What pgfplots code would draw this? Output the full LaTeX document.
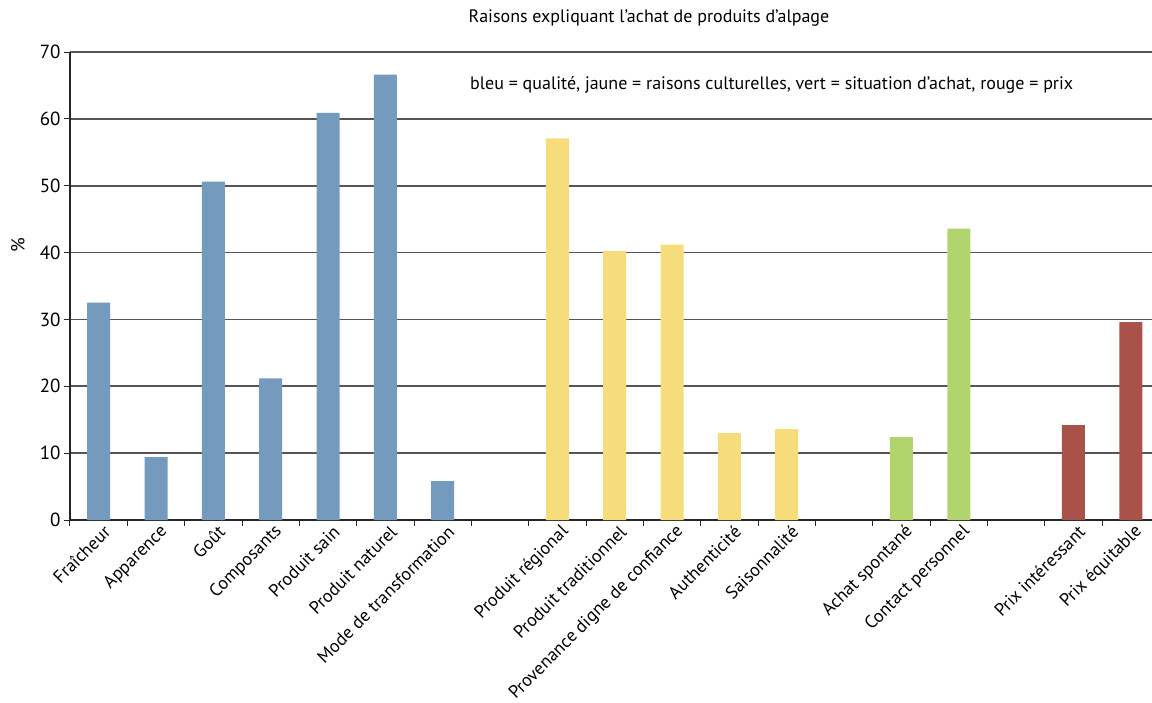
\documentclass[border=0pt]{standalone}
\usepackage{pgfplots}
\pgfplotsset{compat=1.18}
\usepackage{fontspec}
\setmainfont{PT Sans}
\definecolor{cblue}{HTML}{749BBE}
\definecolor{cyellow}{HTML}{F6DC7B}
\definecolor{cgreen}{HTML}{B2D46C}
\definecolor{cred}{HTML}{A8524A}
\definecolor{cgrid}{HTML}{555555}
\begin{document}
\begin{tikzpicture}[x=1pt,y=1pt]
\begin{axis}[
  at={(0,0)}, anchor=south west,
  scale only axis,
  width=1082pt, height=468pt,
  ymin=0, ymax=70,
  xmin=-0.5, xmax=18.37,
  ytick={0,10,...,70},
  xtick={0,1,2,3,4,5,6,8,9,10,11,12,14,15,17,18},
  xticklabels={Fraîcheur,Apparence,Goût,Composants,Produit sain,Produit naturel,Mode de transformation,Produit régional,Produit traditionnel,Provenance digne de confiance,Authenticité,Saisonnalité,Achat spontané,Contact personnel,Prix intéressant,Prix équitable},
  minor xtick={-0.5,0.5,...,17.5},
  major x tick style={draw=none},
  minor x tick style={draw=black!85, line width=1pt},
  minor tick length=6pt,
  major tick length=6pt,
  tick align=outside,
  axis x line*=bottom,
  axis y line*=left,
  axis line style={draw=black!85, line width=1.4pt, -},
  ytick style={draw=black!85, line width=1pt},
  ymajorgrids,
  major grid style={draw=cgrid, line width=1.8pt},
  ybar, bar width=23pt, bar shift=0pt,
  xticklabel style={rotate=45, anchor=east, inner sep=2pt, font=\fontsize{18}{20}\selectfont, xshift=6pt, yshift=-8pt},
  yticklabel style={font=\fontsize{19}{20}\selectfont},
  /pgf/number format/assume math mode=true,
  clip=true,
]
\addplot[draw=none, fill=cblue] coordinates {(0,32.5) (1,9.4) (2,50.6) (3,21.2) (4,60.9) (5,66.6) (6,5.8)};
\addplot[draw=none, fill=cyellow] coordinates {(8,57.1) (9,40.2) (10,41.2) (11,13.0) (12,13.6)};
\addplot[draw=none, fill=cgreen] coordinates {(14,12.4) (15,43.6)};
\addplot[draw=none, fill=cred] coordinates {(17,14.2) (18,29.6)};
\end{axis}
\node[font=\fontsize{18}{20}\selectfont] at (579,502) {Raisons expliquant l’achat de produits d’alpage};
\node[font=\fontsize{18}{20}\selectfont, anchor=west, inner sep=0pt] at (400,435) {bleu = qualité, jaune = raisons culturelles, vert = situation d’achat, rouge = prix};
\node[font=\fontsize{19}{20}\selectfont, rotate=90] at (-52,275) {\%};
\pgfresetboundingbox
\path[use as bounding box] (-70,-182) rectangle (1082,520);
\end{tikzpicture}
\end{document}
